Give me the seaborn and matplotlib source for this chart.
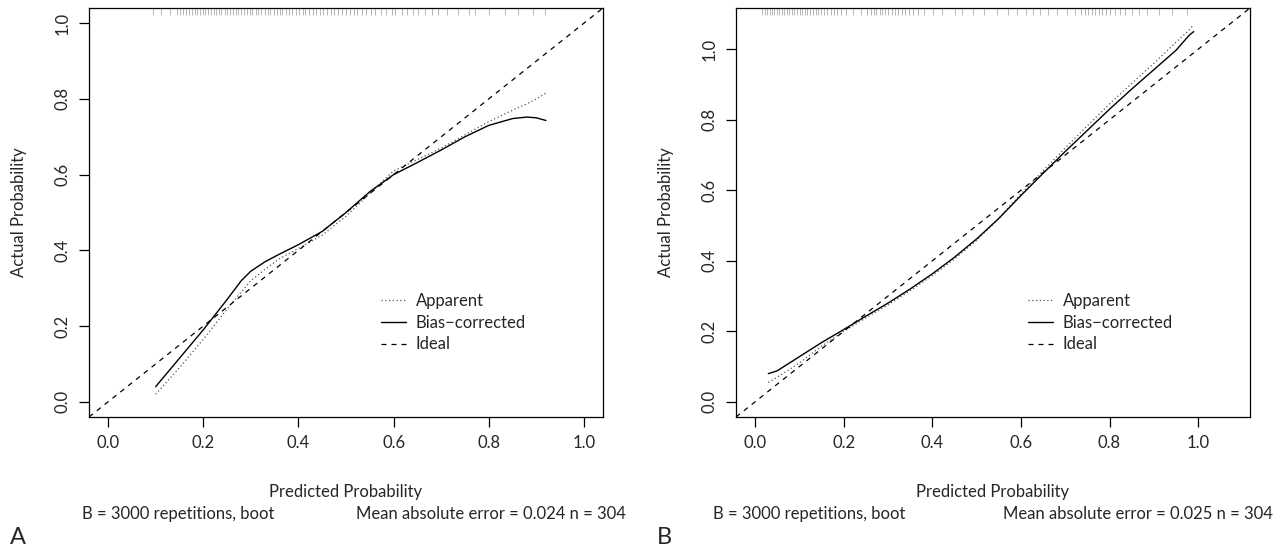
import matplotlib
matplotlib.use("Agg")
import matplotlib.pyplot as plt
import seaborn as sns

# calibration curves
a_pred = [0.10, 0.15, 0.20, 0.25, 0.28, 0.30, 0.33, 0.36, 0.40, 0.45, 0.50, 0.55, 0.60, 0.65, 0.70, 0.75, 0.80, 0.85, 0.88, 0.90, 0.92]
a_apparent = [0.02, 0.09, 0.165, 0.245, 0.29, 0.32, 0.35, 0.378, 0.405, 0.44, 0.49, 0.55, 0.61, 0.64, 0.67, 0.705, 0.74, 0.77, 0.787, 0.80, 0.815]
a_bias = [0.04, 0.115, 0.19, 0.27, 0.32, 0.345, 0.37, 0.39, 0.415, 0.45, 0.50, 0.555, 0.60, 0.632, 0.665, 0.70, 0.73, 0.748, 0.752, 0.75, 0.743]

b_pred = [0.03, 0.05, 0.10, 0.15, 0.20, 0.25, 0.30, 0.35, 0.40, 0.45, 0.50, 0.55, 0.60, 0.65, 0.70, 0.75, 0.80, 0.85, 0.90, 0.95, 0.98, 0.99]
b_apparent = [0.055, 0.07, 0.11, 0.158, 0.20, 0.238, 0.275, 0.315, 0.358, 0.405, 0.458, 0.52, 0.59, 0.655, 0.72, 0.783, 0.845, 0.903, 0.96, 1.02, 1.055, 1.07]
b_bias = [0.08, 0.088, 0.128, 0.168, 0.205, 0.243, 0.28, 0.32, 0.363, 0.41, 0.462, 0.52, 0.585, 0.648, 0.71, 0.77, 0.83, 0.887, 0.942, 0.997, 1.04, 1.05]

# rug of predicted probabilities (top of each panel)
rug_a = [0.095, 0.112, 0.131, 0.144, 0.152, 0.158, 0.163, 0.171, 0.176, 0.183, 0.187, 0.194, 0.199, 0.204, 0.211, 0.216, 0.222,
         0.227, 0.233, 0.238, 0.246, 0.251, 0.257, 0.262, 0.268, 0.274, 0.279, 0.286, 0.291, 0.298, 0.303, 0.311, 0.316, 0.322,
         0.329, 0.336, 0.341, 0.348, 0.354, 0.361, 0.366, 0.373, 0.381, 0.386, 0.394, 0.402, 0.409, 0.414, 0.423, 0.431, 0.437,
         0.446, 0.452, 0.461, 0.468, 0.474, 0.483, 0.492, 0.499, 0.508, 0.516, 0.523, 0.534, 0.541, 0.552, 0.561, 0.573, 0.584,
         0.596, 0.603, 0.617, 0.629, 0.641, 0.652, 0.667, 0.681, 0.694, 0.712, 0.736, 0.758, 0.772, 0.801, 0.834, 0.862, 0.893, 0.918]
rug_b = [0.016, 0.022, 0.027, 0.033, 0.038, 0.043, 0.049, 0.054, 0.061, 0.066, 0.072, 0.077, 0.084, 0.089, 0.095, 0.101, 0.107,
         0.113, 0.118, 0.124, 0.131, 0.137, 0.142, 0.149, 0.156, 0.163, 0.171, 0.178, 0.186, 0.193, 0.205, 0.221, 0.238, 0.252,
         0.261, 0.268, 0.274, 0.281, 0.287, 0.294, 0.301, 0.308, 0.316, 0.323, 0.331, 0.339, 0.347, 0.356, 0.368, 0.381, 0.402,
         0.423, 0.451, 0.468, 0.492, 0.517, 0.545, 0.571, 0.592, 0.611, 0.628, 0.643, 0.662, 0.681, 0.703, 0.721, 0.736, 0.744,
         0.752, 0.761, 0.768, 0.776, 0.784, 0.793, 0.801, 0.812, 0.824, 0.836, 0.851, 0.867, 0.884, 0.912, 0.941, 0.975]

ticks = [0.0, 0.2, 0.4, 0.6, 0.8, 1.0]
tick_labels = ["0.0", "0.2", "0.4", "0.6", "0.8", "1.0"]

panels = [
    dict(pred=a_pred, app=a_apparent, bias=a_bias, rug=rug_a, lim=(-0.04, 1.04),
         mae="Mean absolute error = 0.024 n = 304", letter="A", left=89, sub_left=82),
    dict(pred=b_pred, app=b_apparent, bias=b_bias, rug=rug_b, lim=(-0.043, 1.117),
         mae="Mean absolute error = 0.025 n = 304", letter="B", left=736, sub_left=713),
]

sns.set_theme(style="ticks")
plt.rcParams["font.family"] = ["Lato", "DejaVu Sans"]
plt.rcParams["font.size"] = 12

W, H = 1286, 548
fig = plt.figure(figsize=(W / 100, H / 100), dpi=100)

for p in panels:
    ax = fig.add_axes([p["left"] / W, (H - 417) / H, 514 / W, 409 / H])

    sns.lineplot(x=p["pred"], y=p["app"], ax=ax, color="#555555", linestyle=(0, (1, 2)),
                 linewidth=0.9, label="Apparent")
    sns.lineplot(x=p["pred"], y=p["bias"], ax=ax, color="black", linewidth=1.0,
                 label="Bias\u2212corrected")
    ax.axline((0, 0), slope=1, color="black", linewidth=0.9, linestyle=(0, (4, 4)), label="Ideal")

    ax.vlines(p["rug"], 0.984, 1.0, transform=ax.get_xaxis_transform(), color="#999999", linewidth=0.5)

    ax.set_xlim(*p["lim"])
    ax.set_ylim(*p["lim"])
    ax.set_xticks(ticks)
    ax.set_xticklabels(tick_labels)
    ax.set_yticks(ticks)
    ax.set_yticklabels(tick_labels, rotation=90, va="center")
    ax.tick_params(length=7, width=0.9, color="black", labelsize=12, pad=6)
    for s in ax.spines.values():
        s.set_linewidth(0.9)
        s.set_color("black")

    ax.set_xlabel("Predicted Probability", fontsize=12, labelpad=24)
    ax.set_ylabel("Actual Probability", fontsize=12, labelpad=20)

    ax.legend(loc="upper left", bbox_to_anchor=(0.555, 0.32), frameon=False, fontsize=12,
              handlelength=1.5, handletextpad=0.6, labelspacing=0.35, borderaxespad=0)

    fig.text(p["sub_left"] / W, 1 - 514 / H, "B = 3000 repetitions, boot",
             ha="left", va="center", fontsize=12)
    fig.text((p["left"] + 514 + 23) / W, 1 - 514 / H, p["mae"], ha="right", va="center", fontsize=12)
    fig.text((p["left"] - 79) / W, 1 - 537 / H, p["letter"], ha="left", va="center", fontsize=17)

fig.savefig("out.png", dpi=100)
